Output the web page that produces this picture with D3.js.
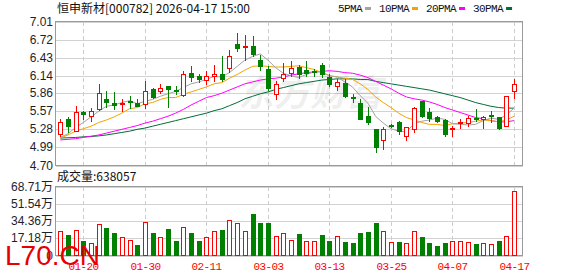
<!DOCTYPE html>
<html>
<head>
<meta charset="UTF-8">
<script src="https://cdn.jsdelivr.net/npm/d3@7"></script>
<style>
body { margin: 0; background: #fff; }
svg { display: block; }
.grid { stroke: #d2d2d2; shape-rendering: crispEdges; }
.vgrid { stroke: #cdcdcd; stroke-dasharray: 4,3; shape-rendering: crispEdges; }
.frame { fill: none; stroke: #9a9a9a; shape-rendering: crispEdges; }
.ylab { font: 12px "Liberation Sans", "Noto Sans CJK SC", sans-serif; fill: #1e1e2a; text-anchor: end; }
.xlab { font: 11px "Liberation Mono", monospace; letter-spacing: -0.6px; fill: #f00; text-anchor: middle; }
.legend { font: 11px "Liberation Mono", monospace; letter-spacing: -0.6px; fill: #111; }
.head { font: 12px "Noto Sans CJK SC", sans-serif; fill: #111; }
.ma { fill: none; stroke-width: 1px; }
</style>
</head>
<body>
<script>

var width  = 578,
    height = 276;

var dates = ["2026-01-15","2026-01-16","2026-01-19","2026-01-20","2026-01-21","2026-01-22","2026-01-23","2026-01-26","2026-01-27","2026-01-28","2026-01-29","2026-01-30",
  "2026-02-02","2026-02-03","2026-02-04","2026-02-05","2026-02-06","2026-02-09","2026-02-10","2026-02-11","2026-02-12","2026-02-13",
  "2026-02-24","2026-02-25","2026-02-26","2026-02-27",
  "2026-03-02","2026-03-03","2026-03-04","2026-03-05","2026-03-06","2026-03-09","2026-03-10","2026-03-11","2026-03-12","2026-03-13",
  "2026-03-16","2026-03-17","2026-03-18","2026-03-19","2026-03-20","2026-03-23","2026-03-24","2026-03-25","2026-03-26","2026-03-27","2026-03-30","2026-03-31",
  "2026-04-01","2026-04-02","2026-04-03","2026-04-07","2026-04-08","2026-04-09","2026-04-10","2026-04-13","2026-04-14","2026-04-15","2026-04-16","2026-04-17"];

var open  = [5.20,5.44,5.25,5.56,5.50,5.60,5.76,5.70,5.68,5.74,5.71,5.68,5.92,5.90,5.97,5.91,5.83,6.18,6.14,6.07,6.13,6.17,6.27,6.65,6.61,6.61,6.40,6.25,5.84,6.10,
             6.18,6.28,6.24,6.21,6.31,6.12,5.98,6.02,5.80,5.70,5.49,5.29,5.11,5.35,5.39,5.17,5.29,5.73,5.56,5.48,5.43,5.28,5.38,5.38,5.46,5.45,5.51,5.48,5.33,5.89];
var high  = [5.45,5.48,5.66,5.57,5.63,6.00,5.89,5.88,5.76,5.82,5.76,6.06,5.95,6.00,5.98,5.97,6.22,6.30,6.17,6.21,6.32,6.45,6.55,6.83,6.80,6.78,6.48,6.29,6.06,6.35,
             6.37,6.31,6.37,6.25,6.35,6.16,6.08,6.08,5.85,5.76,5.64,5.29,5.32,5.36,5.42,5.32,5.64,5.74,5.62,5.49,5.45,5.34,5.45,5.49,5.60,5.49,5.57,5.48,5.82,6.09];
var low   = [5.18,5.24,5.25,5.44,5.41,5.59,5.64,5.61,5.58,5.62,5.66,5.63,5.78,5.86,5.64,5.84,5.82,6.06,6.04,6.01,6.05,6.05,6.20,6.54,6.39,6.45,6.23,5.91,5.76,6.05,
             6.14,6.10,6.14,6.13,6.12,5.98,5.91,5.80,5.72,5.44,5.36,4.92,4.97,5.31,5.21,5.11,5.23,5.48,5.41,5.39,5.18,5.17,5.30,5.34,5.41,5.30,5.40,5.29,5.33,5.78];
var close = [5.40,5.33,5.56,5.52,5.58,5.87,5.72,5.67,5.70,5.72,5.66,5.90,5.80,5.95,5.93,5.89,6.16,6.12,6.08,6.13,6.17,6.09,6.46,6.59,6.62,6.49,6.29,5.95,6.00,6.17,
             6.27,6.17,6.19,6.20,6.16,6.00,6.04,5.81,5.79,5.45,5.39,4.99,5.29,5.34,5.25,5.32,5.63,5.49,5.47,5.41,5.20,5.30,5.40,5.46,5.45,5.48,5.50,5.30,5.81,6.00];

var volume = [244000,200000,250000,140000,127000,317000,270000,220000,187000,157000,100000,337000,220000,187000,260000,140000,287000,222000,140000,187000,
              240000,250000,357000,320000,247000,414000,324000,324000,197000,220000,157000,210000,140000,140000,200000,140000,197000,130000,120000,220000,
              230000,324000,240000,130000,130000,120000,240000,180000,120000,90000,120000,140000,140000,130000,110000,120000,110000,140000,197000,638057];

var ma5  = [5.15,5.21,5.31,5.39,5.48,5.57,5.65,5.67,5.71,5.74,5.69,5.73,5.76,5.81,5.85,5.89,5.95,6.01,6.04,6.08,6.13,6.12,6.19,6.29,6.39,6.45,6.49,6.39,6.27,6.18,
            6.14,6.11,6.16,6.20,6.20,6.14,6.12,6.04,5.96,5.82,5.70,5.49,5.38,5.29,5.25,5.24,5.37,5.41,5.43,5.46,5.44,5.37,5.36,5.35,5.36,5.42,5.46,5.44,5.51,5.62];
var ma10 = [5.14,5.19,5.25,5.29,5.33,5.39,5.43,5.48,5.54,5.61,5.63,5.69,5.71,5.76,5.79,5.79,5.84,5.88,5.92,5.96,6.01,6.03,6.10,6.16,6.23,6.29,6.30,6.29,6.28,6.28,
            6.29,6.30,6.27,6.24,6.19,6.14,6.12,6.10,6.08,6.01,5.92,5.80,5.71,5.63,5.54,5.47,5.43,5.39,5.36,5.36,5.34,5.37,5.38,5.39,5.41,5.43,5.42,5.40,5.43,5.49];
var ma20 = [5.11,5.12,5.13,5.15,5.17,5.19,5.22,5.25,5.28,5.31,5.34,5.38,5.41,5.45,5.49,5.54,5.60,5.67,5.73,5.79,5.82,5.86,5.91,5.96,6.01,6.04,6.07,6.09,6.10,6.12,
            6.15,6.17,6.19,6.20,6.21,6.22,6.21,6.19,6.18,6.15,6.11,6.05,5.99,5.93,5.86,5.80,5.77,5.75,5.72,5.68,5.63,5.59,5.55,5.51,5.47,5.45,5.42,5.40,5.40,5.42];
var ma30 = [5.14,5.145,5.15,5.16,5.165,5.175,5.19,5.21,5.23,5.25,5.28,5.30,5.33,5.36,5.39,5.42,5.45,5.48,5.51,5.54,5.58,5.61,5.66,5.71,5.77,5.81,5.85,5.88,5.92,5.95,
            5.98,6.01,6.03,6.05,6.07,6.08,6.09,6.09,6.09,6.08,6.08,6.05,6.03,6.01,5.99,5.97,5.95,5.93,5.91,5.88,5.85,5.82,5.79,5.75,5.71,5.68,5.65,5.63,5.62,5.62];

var priceTicks = [7.01, 6.72, 6.43, 6.14, 5.86, 5.57, 5.28, 4.99, 4.70];
var volTicks   = [687100, 515400, 343600, 171800, 0];
var dateTicks  = ["01-20", "01-30", "02-11", "03-03", "03-13", "03-25", "04-07", "04-17"];
var maNames    = ["5PMA", "10PMA", "20PMA", "30PMA"];
var maColors   = ["#a3a3a3", "#f5a300", "#ff00ff", "#006e38"];

var red = "#ff0000", green = "#008000";

var left = 55.5, right = 522.5,
    top1 = 21.5, bot1 = 165.5,
    top2 = 186.5, bot2 = 255.5;

var x = d3.scalePoint().domain(dates).range([60.3, 514]);
var y = d3.scaleLinear().domain([4.70, 7.01]).range([bot1, top1]);
var yv = d3.scaleLinear().domain([0, 687100]).range([bot2, top2]);

function cx(i) { return Math.round(x(dates[i])); }

var svg = d3.select("body").append("svg")
    .attr("width", width)
    .attr("height", height);

svg.append("rect").attr("width", width).attr("height", height).attr("fill", "#fff");

// grid
var grid = svg.append("g");
grid.selectAll(".pg").data(priceTicks).enter().append("line")
    .attr("class", "grid")
    .attr("x1", left).attr("x2", right)
    .attr("y1", d => Math.round(y(d)) + 0.5).attr("y2", d => Math.round(y(d)) + 0.5);
grid.selectAll(".vg").data(volTicks).enter().append("line")
    .attr("class", "grid")
    .attr("x1", left).attr("x2", right)
    .attr("y1", d => Math.round(yv(d)) + 0.5).attr("y2", d => Math.round(yv(d)) + 0.5);

var tickIdx = dateTicks.map(t => dates.findIndex(d => d.slice(5) === t));
tickIdx.forEach(function(i) {
    [[top1, bot1], [top2, bot2]].forEach(function(r) {
        grid.append("line").attr("class", "vgrid")
            .attr("x1", cx(i) + 0.5).attr("x2", cx(i) + 0.5)
            .attr("y1", r[0]).attr("y2", r[1]);
    });
});

// watermark
svg.append("text")
    .attr("x", 238).attr("y", 106)
    .attr("font-family", "Noto Sans CJK SC")
    .attr("font-size", 36).attr("font-weight", "bold").attr("font-style", "italic")
    .attr("fill", "#000").attr("fill-opacity", 0.08)
    .text("东方财富");

// frames
svg.append("rect").attr("class", "frame")
    .attr("x", left).attr("y", top1).attr("width", right - left).attr("height", bot1 - top1);
svg.append("rect").attr("class", "frame")
    .attr("x", left).attr("y", top2).attr("width", right - left).attr("height", bot2 - top2);

// moving averages
var line = d3.line()
    .x((d, i) => x(dates[i]))
    .y(d => y(d));

[ma30, ma20, ma10, ma5].forEach(function(s, k) {
    svg.append("path")
        .datum(s)
        .attr("class", "ma")
        .attr("stroke", maColors[3 - k])
        .attr("d", line);
});

// candles
var candles = svg.append("g");
dates.forEach(function(d, i) {
    var up = close[i] >= open[i];
    var col = up ? red : green;
    var c = cx(i);
    candles.append("line")
        .attr("x1", c + 0.5).attr("x2", c + 0.5)
        .attr("y1", Math.round(y(high[i]))).attr("y2", Math.round(y(low[i])) + 1)
        .attr("stroke", col);
    var t = Math.round(y(Math.max(open[i], close[i]))),
        b = Math.round(y(Math.min(open[i], close[i])));
    candles.append("rect")
        .attr("x", c - 1.5).attr("width", 4)
        .attr("y", t + 0.5).attr("height", Math.max(b - t, 1))
        .attr("fill", up ? "#fff" : green)
        .attr("stroke", col);
});

// volume
var vols = svg.append("g");
volume.forEach(function(v, i) {
    var up = i === 0 ? close[i] >= open[i] : close[i] >= close[i - 1];
    var c = cx(i);
    var t = Math.round(yv(v));
    vols.append("rect")
        .attr("x", c - 1.5).attr("width", 4)
        .attr("y", t + 0.5).attr("height", Math.round(bot2) - t - 1)
        .attr("fill", up ? "#fff" : green)
        .attr("stroke", up ? red : green);
});

// labels
svg.selectAll(".yp").data(priceTicks).enter().append("text")
    .attr("class", "ylab")
    .attr("x", 53).attr("y", d => y(d) + 4)
    .text(d => d.toFixed(2));

svg.selectAll(".yv").data(volTicks).enter().append("text")
    .attr("class", "ylab")
    .attr("x", 53).attr("y", d => yv(d) + 4)
    .text(d => d === 0 ? "0" : (d / 10000).toFixed(2) + "万");

svg.selectAll(".xl").data(tickIdx).enter().append("text")
    .attr("class", "xlab")
    .attr("x", i => cx(i) + 0.5).attr("y", 270)
    .text((i, k) => dateTicks[k]);

svg.append("text").attr("class", "head")
    .attr("x", 57).attr("y", 13)
    .text("恒申新材[000782] 2026-04-17 15:00");

svg.append("text").attr("class", "head")
    .attr("x", 57).attr("y", 181)
    .text("成交量:" + volume[volume.length - 1]);

// legend
var lx = 338;
maNames.forEach(function(n, k) {
    var t = svg.append("text").attr("class", "legend")
        .attr("x", lx).attr("y", 12).text(n);
    var w = t.node().getComputedTextLength();
    svg.append("rect")
        .attr("x", lx + w + 3).attr("y", 7).attr("width", 6).attr("height", 3)
        .attr("fill", maColors[k]);
    lx += w + 3 + 6 + 8;
});

// site mark
svg.append("text")
    .attr("x", 5).attr("y", 265)
    .attr("font-family", "Liberation Sans, Arial, sans-serif")
    .attr("font-size", 28)
    .attr("fill", "#e60000")
    .text("L70.CN");

</script>
</body>
</html>
